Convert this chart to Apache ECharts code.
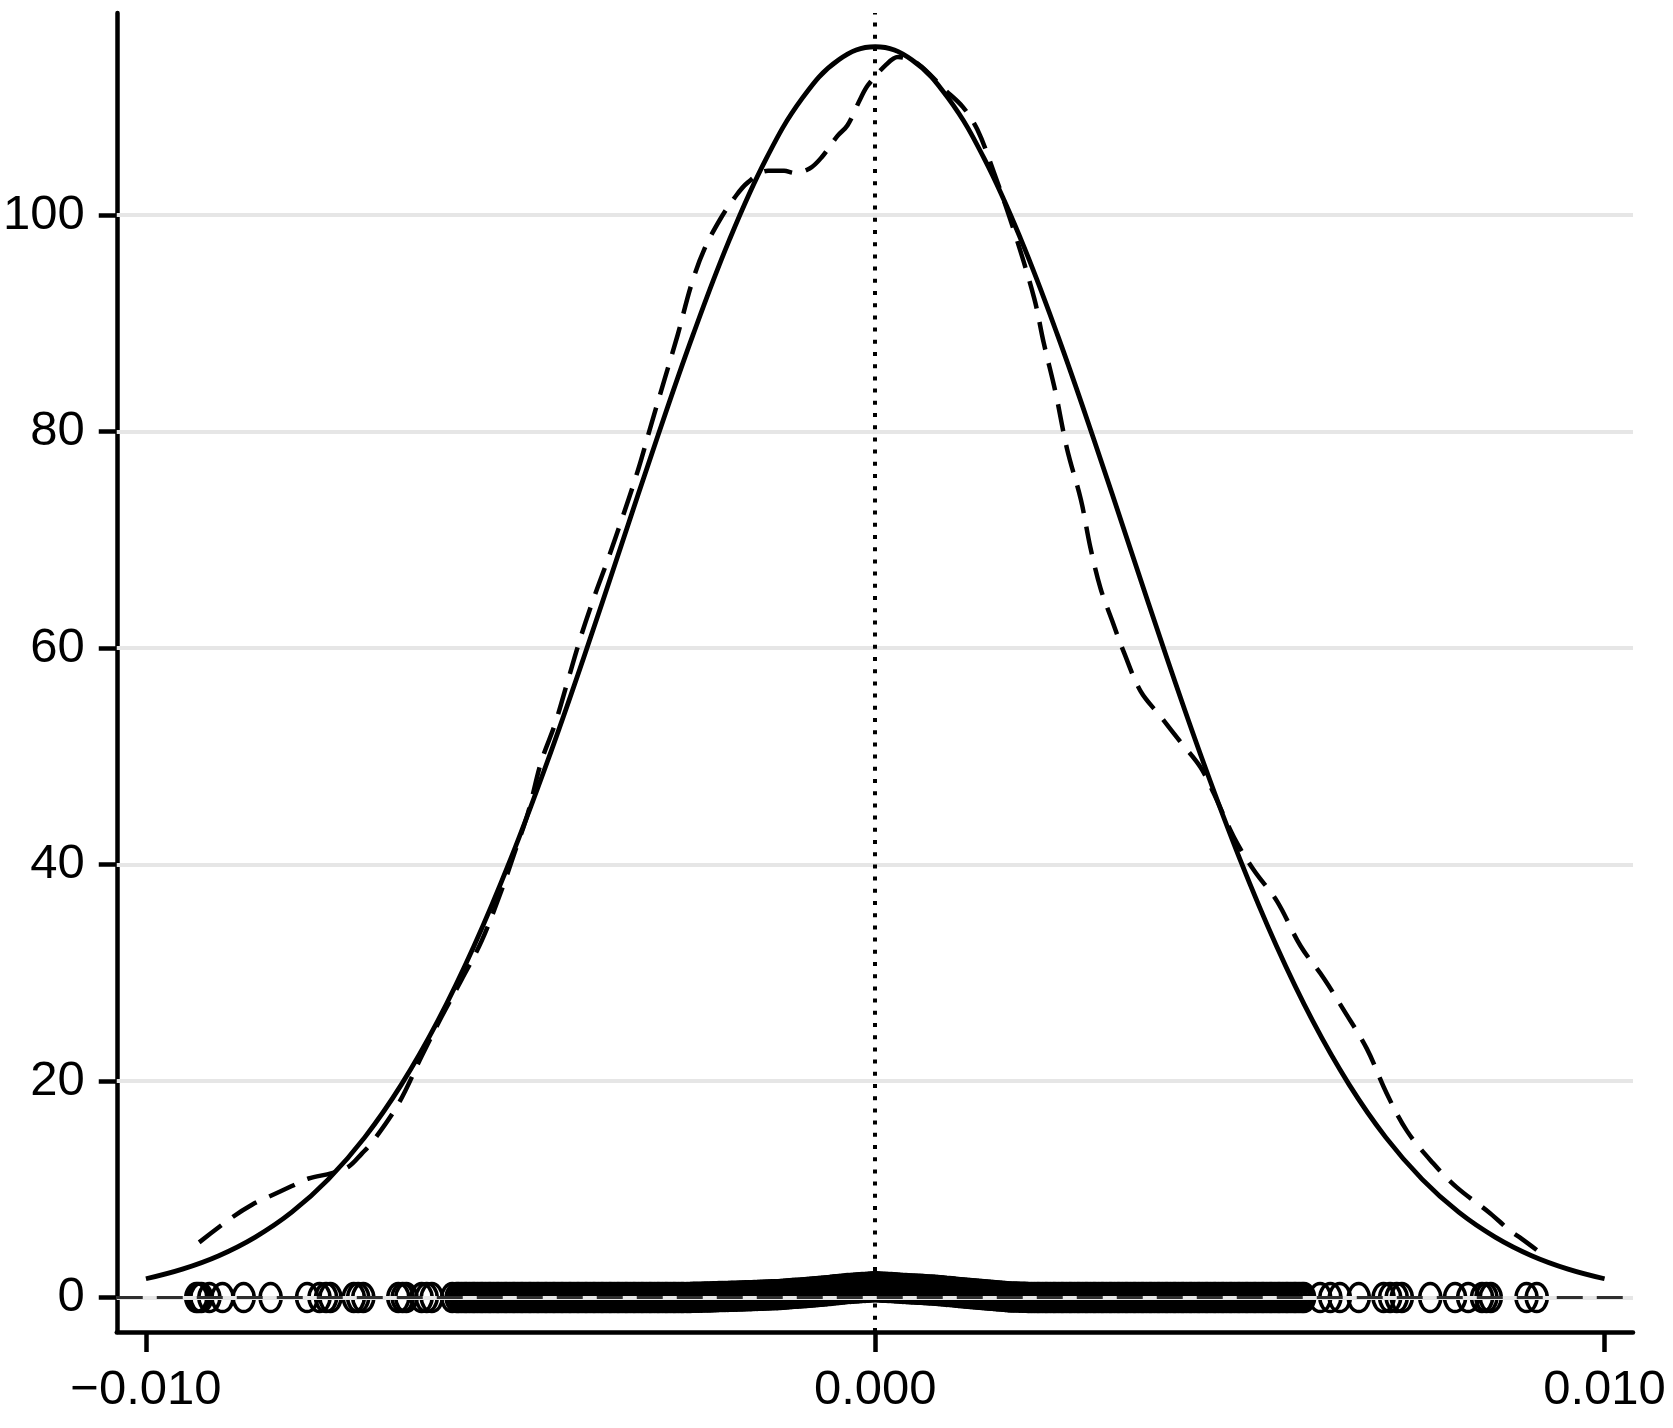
<!DOCTYPE html>
<html>
<head>
<meta charset="utf-8">
<script src="https://cdn.jsdelivr.net/npm/echarts@6/dist/echarts.min.js"></script>
<style>
html,body{margin:0;padding:0;background:#fff;}
#chart{width:1673px;height:1428px;}
</style>
</head>
<body>
<div id="chart"></div>
<script>
// ---------- axis ticks ----------
const xTickValues = [-0.010, 0.000, 0.010];
const xTickLabels = ['\u22120.010', '0.000', '0.010'];
const yTickValues = [0, 20, 40, 60, 80, 100];
const yTickLabels = ['0', '20', '40', '60', '80', '100'];

// ---------- normal density (solid) ----------
const normX = [-0.0100,-0.0095,-0.0090,-0.0085,-0.0080,-0.0075,-0.0070,-0.0065,-0.0060,-0.0055,
  -0.0050,-0.0045,-0.0040,-0.0035,-0.0030,-0.0025,-0.0020,-0.0015,-0.0010,-0.0005,
  0.0000,0.0005,0.0010,0.0015,0.0020,0.0025,0.0030,0.0035,0.0040,0.0045,
  0.0050,0.0055,0.0060,0.0065,0.0070,0.0075,0.0080,0.0085,0.0090,0.0095,0.0100];
const normY = [1.74,2.63,3.87,5.59,7.89,10.92,14.80,19.65,25.53,32.50,
  40.50,49.43,59.07,69.13,79.23,88.91,97.71,105.15,110.80,114.35,
  115.55,114.35,110.80,105.15,97.71,88.91,79.23,69.13,59.07,49.43,
  40.50,32.50,25.53,19.65,14.80,10.92,7.89,5.59,3.87,2.63,1.74];

// ---------- kernel density (dashed) ----------
const kdeX = [-0.00927,-0.00882,-0.00854,-0.00832,-0.00800,-0.00777,-0.00745,-0.00722,-0.00704,-0.00688,
  -0.00653,-0.00622,-0.00595,-0.00567,-0.00540,-0.00512,-0.00494,-0.00476,-0.00458,-0.00439,
  -0.00421,-0.00403,-0.00385,-0.00366,-0.00348,-0.00325,-0.00307,-0.00289,-0.00271,-0.00252,
  -0.00234,-0.00211,-0.00193,-0.00175,-0.00147,-0.00125,-0.00111,-0.00090,-0.00074,-0.00052,
  -0.00038,-0.00020,-0.00010,0.00015,0.00031,0.00058,0.00095,0.00120,0.00140,0.00163,
  0.00190,0.00218,0.00231,0.00247,0.00263,0.00282,0.00295,0.00309,0.00325,0.00341,
  0.00364,0.00391,0.00419,0.00446,0.00464,0.00492,0.00519,0.00551,0.00583,0.00615,
  0.00642,0.00674,0.00701,0.00729,0.00765,0.00797,0.00843,0.00870,0.00886,0.00907];
const kdeY = [5.1,7.4,8.6,9.3,10.3,11.0,11.5,12.1,13.3,14.5,
  18.0,22.3,25.9,29.4,32.9,37.7,41.2,44.8,49.5,53.0,
  57.1,61.2,64.8,68.3,71.8,76.5,80.7,84.8,88.9,93.6,
  96.9,99.8,101.6,103.0,104.1,104.1,103.9,104.3,105.3,107.3,
  108.3,110.8,112.0,113.9,114.6,114.0,111.6,110.0,107.9,103.9,
  98.6,92.3,88.2,83.7,78.4,73.7,69.3,65.5,62.5,59.6,
  56.0,53.7,51.3,49.0,46.6,42.5,39.5,36.6,32.5,29.5,
  26.6,23.0,18.9,15.4,12.4,10.2,7.8,6.2,5.45,4.4];

// ---------- rug of observations (x in units of 1e-5, y in units of 0.01) ----------
const RUG_X_UNIT = 1e-5;
const RUG_Y_UNIT = 0.01;
const rugSparseLeft = [-931,-928,-924,-913,-895,-866,-829,-779,-762,-753,-747,-715,-709,-702,
  -654,-648,-643,-622,-615,-608,-580];
const rugDenseLeft = [-574,-571,-567,-563,-560,-556,-552,-549,-545,-541,-538,-534,-530,-527,-523,-519,
  -516,-512,-508,-505,-501,-497,-494,-490,-486,-483,-479,-475,-472,-468,-464,-461,-457,-453,-450,
  -446,-442,-439,-435,-431,-428,-424,-420,-417,-413,-409,-406,-402,-398,-395,-391,-387,-384,-380,
  -376,-373,-369,-365,-362,-358,-354,-351,-347,-343,-340,-336,-332,-329,-325,-321,-318,-314,-310,
  -307,-303,-299,-296,-292,-288,-285,-281,-277,-274,-270,-266,-263];
const rugCentreX = [-258,-254,-250,-246,-242,-238,-234,-230,-226,-222,-218,-214,-210,-206,-202,-198,-194,-190,-186,-182,
  -178,-174,-170,-166,-162,-158,-154,-150,-146,-142,-138,
  -134,-130,-126,-122,-118,-114,-110,-106,-102,-98,-94,-90,-86,
  -82,-78,-74,-70,-66,-62,-58,-54,-50,-46,-42,
  -38,-34,-30,-26,-22,-18,-14,-10,-6,-2,
  2,6,10,14,18,22,
  26,30,34,38,42,46,50,54,58,62,66,70,74,78,
  82,86,90,94,98,102,106,110,114,118,122,126,130,
  134,138,142,146,150,154,158,162,166,170,174,178,182,186,
  190,194,198,202,206,210,214];
const rugCentreY = [0,1,2,3,3,4,5,6,6,7,8,9,9,10,11,12,12,13,14,15,
  16,17,18,19,20,21,22,23,24,25,26,
  27,29,31,33,35,37,39,41,43,45,47,49,51,
  53,55,58,61,64,66,69,72,75,78,80,
  83,85,87,88,90,92,94,96,97,99,
  99,98,96,95,93,92,
  90,88,87,85,84,82,80,79,77,76,74,72,71,69,
  67,65,62,60,57,55,53,50,48,45,43,40,38,
  35,33,31,29,26,24,22,20,17,15,13,11,8,6,
  5,5,4,3,2,1,1];
const rugDenseRight = [218,222,225,229,233,236,240,244,247,251,255,258,262,266,269,273,277,280,284,288,
  291,295,299,302,306,310,313,317,321,324,328,332,335,339,343,346,350,354,357,361,365,368,372,376,
  379,383,387,390,394,398,401,405,409,412,416,420,423,427,431,434,438,442,445,449,453,456,460,464,
  467,471,475,478,482,486,489,493,497,500,504,508,511,515,519,522,526,530,533,537,541,544,548,552,
  555,559,563,566,570,574,577,581,585,588];
const rugSparseRight = [610,624,637,663,697,706,715,722,761,795,813,832,838,844,893,907];

// ---------- build series data ----------
const normData = normX.map((x, i) => [x, normY[i]]);
const kdeData = kdeX.map((x, i) => [x, kdeY[i]]);
const rugData = [];
rugSparseLeft.concat(rugDenseLeft).forEach(v => rugData.push([v * RUG_X_UNIT, 0]));
const nC = Math.min(rugCentreX.length, rugCentreY.length);
for (let i = 0; i < nC; i++) rugData.push([rugCentreX[i] * RUG_X_UNIT, rugCentreY[i] * RUG_Y_UNIT]);
rugDenseRight.concat(rugSparseRight).forEach(v => rugData.push([v * RUG_X_UNIT, 0]));

const FONT = "'Liberation Sans', Arial, Helvetica, sans-serif";
function pick(vals, labels) {
  return function (v) {
    for (let i = 0; i < vals.length; i++) if (Math.abs(vals[i] - v) < 1e-9) return labels[i];
    return '';
  };
}
// hollow oval marker (radii in pixels)
const MARK_RX = 10.5, MARK_RY = 14, MARK_LW = 3.5;

const chart = echarts.init(document.getElementById('chart'), null, {renderer: 'canvas'});
chart.setOption({
  animation: false,
  backgroundColor: '#ffffff',
  grid: {left: 114, right: 40, top: 13, bottom: 96},
  xAxis: {
    type: 'value', min: -0.0104, max: 0.01039,
    axisLine: {show: true, onZero: false, lineStyle: {color: '#000', width: 4.5}},
    axisTick: {show: true, length: 20, customValues: xTickValues, lineStyle: {color: '#000', width: 4.5}},
    axisLabel: {show: true, customValues: xTickValues, formatter: pick(xTickValues, xTickLabels),
      margin: 34, fontSize: 49, color: '#000', fontFamily: FONT},
    splitLine: {show: false}
  },
  yAxis: {
    type: 'value', min: -3.18, max: 118.67,
    axisLine: {show: true, onZero: false, lineStyle: {color: '#000', width: 4.5}},
    axisTick: {show: true, length: 18, customValues: yTickValues, lineStyle: {color: '#000', width: 4.5}},
    axisLabel: {show: true, customValues: yTickValues, formatter: pick(yTickValues, yTickLabels),
      margin: 32, fontSize: 49, color: '#000', fontFamily: FONT},
    splitLine: {show: false}
  },
  series: [
    {
      name: 'grid', type: 'line', data: [[0, 0]], showSymbol: false, silent: true, z: 1,
      lineStyle: {opacity: 0},
      markLine: {
        silent: true, symbol: ['none', 'none'], label: {show: false}, animation: false,
        emphasis: {disabled: true},
        lineStyle: {color: '#e6e6e6', width: 4, type: 'solid'},
        data: yTickValues.map(v => ({yAxis: v}))
      }
    },
    {
      name: 'zero', type: 'line', data: [[0, 0]], showSymbol: false, silent: true, z: 2,
      lineStyle: {opacity: 0},
      markLine: {
        silent: true, symbol: ['none', 'none'], label: {show: false}, animation: false,
        emphasis: {disabled: true},
        lineStyle: {color: '#2e2e2e', width: 3, type: [26, 14]},
        data: [{yAxis: 0}]
      }
    },
    {
      name: 'xline', type: 'line', data: [[0, 0]], showSymbol: false, silent: true, z: 3,
      lineStyle: {opacity: 0},
      markLine: {
        silent: true, symbol: ['none', 'none'], label: {show: false}, animation: false,
        emphasis: {disabled: true},
        lineStyle: {color: '#000', width: 4, type: [4, 8.2], cap: 'butt'},
        data: [{xAxis: 0}]
      }
    },
    {
      name: 'obs', type: 'custom', data: rugData, z: 4, silent: true, clip: false,
      encode: {x: 0, y: 1},
      renderItem: function (params, api) {
        const p = api.coord([api.value(0), api.value(1)]);
        return {
          type: 'ellipse', silent: true,
          shape: {cx: p[0], cy: p[1], rx: MARK_RX, ry: MARK_RY},
          style: {fill: 'none', stroke: '#000', lineWidth: MARK_LW}
        };
      }
    },
    {
      name: 'kernel', type: 'line', data: kdeData, z: 5, silent: true,
      showSymbol: false, smooth: 0.35,
      lineStyle: {color: '#000', width: 4.5, type: [28, 14], cap: 'butt', join: 'round'}
    },
    {
      name: 'normal', type: 'line', data: normData, z: 6, silent: true,
      showSymbol: false, smooth: 0.4,
      lineStyle: {color: '#000', width: 4.8, type: 'solid', join: 'round'}
    }
  ]
});
</script>
</body>
</html>
